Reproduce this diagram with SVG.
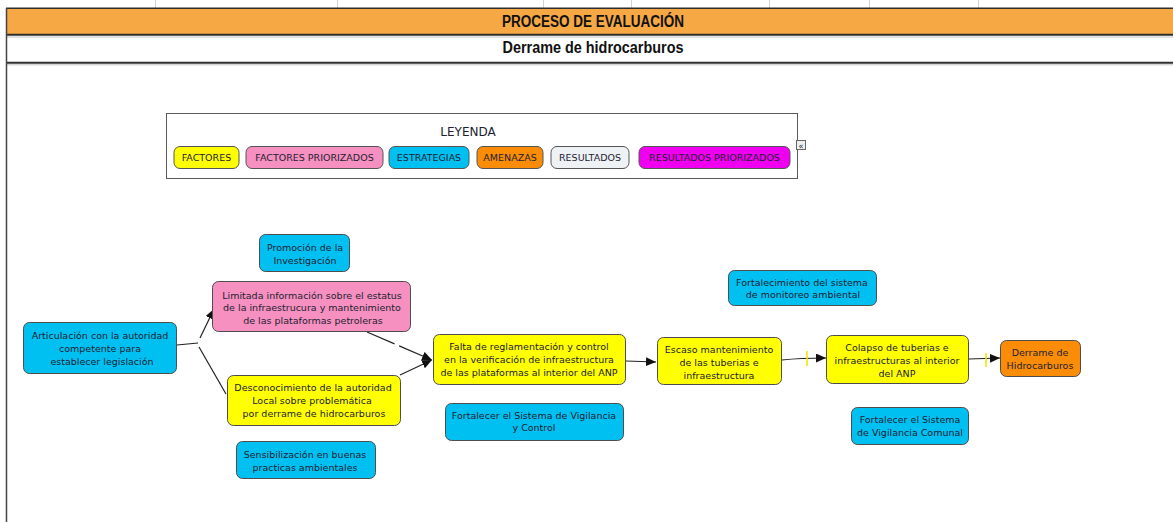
<svg xmlns="http://www.w3.org/2000/svg" width="1173" height="522" viewBox="0 0 1173 522">
  <style>
    .node rect { stroke: #4d4d4d; stroke-width: 1; }
    .node text, .leg text { font-family: "DejaVu Sans", Verdana, sans-serif; font-size: 9.5px; fill: #1c2230; text-anchor: middle; }
    .factor { fill: #ffff00; }
    .prior { fill: #f690c0; }
    .estr { fill: #00c0f2; }
    .amen { fill: #fa8c08; }
    .res { fill: #eef2f5; }
    .resp { fill: #f000f0; }
    .head { font-family: "Liberation Sans", Arial, sans-serif; font-weight: bold; font-size: 16px; fill: #111; text-anchor: middle; }
    .link { fill: none; stroke: #222; stroke-width: 1.2; }
    .dash { stroke-dasharray: 30 5; }
    .tick { stroke: #f2e600; stroke-width: 1.6; }
    .grid { stroke: #d2d2d2; stroke-width: 1; }
  </style>
  <defs>
    <marker id="arrow" markerUnits="userSpaceOnUse" markerWidth="11" markerHeight="10" refX="10" refY="4.5" orient="auto">
      <path d="M0,0 L10,4.5 L0,9 z" fill="#111"/>
    </marker>
  </defs>

  <rect width="1173" height="522" fill="#ffffff"/>

  <!-- sheet header -->
  <g id="header">
    <line class="grid" x1="155.5" y1="0" x2="155.5" y2="8"/>
    <line class="grid" x1="337.5" y1="0" x2="337.5" y2="8"/>
    <line class="grid" x1="543.5" y1="0" x2="543.5" y2="8"/>
    <line class="grid" x1="631.5" y1="0" x2="631.5" y2="8"/>
    <line class="grid" x1="769.5" y1="0" x2="769.5" y2="8"/>
    <line class="grid" x1="869.5" y1="0" x2="869.5" y2="8"/>
    <line class="grid" x1="978.5" y1="0" x2="978.5" y2="8"/>
    <rect x="6" y="8" width="1167" height="26" fill="#f5a843"/>
    <line x1="6" y1="8.2" x2="1173" y2="8.2" stroke="#2e2e2e" stroke-width="1.6"/>
    <line x1="6" y1="34.8" x2="1173" y2="34.8" stroke="#2e2e2e" stroke-width="2"/>
    <line x1="6" y1="37" x2="1173" y2="37" stroke="#c4c4c4" stroke-width="1"/>
    <line x1="6" y1="62.8" x2="1173" y2="62.8" stroke="#2e2e2e" stroke-width="2"/>
    <line x1="6" y1="64.8" x2="1173" y2="64.8" stroke="#c4c4c4" stroke-width="1"/>
    <line x1="6.5" y1="8" x2="6.5" y2="522" stroke="#444" stroke-width="1.5"/>
    <text class="head" x="593" y="26.5" textLength="182" lengthAdjust="spacingAndGlyphs">PROCESO DE EVALUACIÓN</text>
    <text class="head" x="593" y="52.5" textLength="181" lengthAdjust="spacingAndGlyphs">Derrame de hidrocarburos</text>
  </g>

  <!-- legend -->
  <g id="legend" class="leg">
    <rect x="166.5" y="113.5" width="631" height="65" fill="#ffffff" stroke="#5a5a5a" stroke-width="1"/>
    <text x="468" y="136" style="font-size:12px">LEYENDA</text>
    <g stroke="#555" stroke-width="1">
      <rect class="factor" x="174" y="146.5" width="65" height="22" rx="6"/>
      <rect class="prior" x="246" y="146.5" width="137" height="22" rx="6"/>
      <rect class="estr" x="389" y="146.5" width="80" height="22" rx="6"/>
      <rect class="amen" x="477" y="146.5" width="66" height="22" rx="6"/>
      <rect class="res" x="551" y="146.5" width="78" height="22" rx="6"/>
      <rect class="resp" x="639" y="146.5" width="151" height="22" rx="6"/>
    </g>
    <text x="206.5" y="161">FACTORES</text>
    <text x="314.5" y="161">FACTORES PRIORIZADOS</text>
    <text x="429" y="161">ESTRATEGIAS</text>
    <text x="510" y="161">AMENAZAS</text>
    <text x="590" y="161">RESULTADOS</text>
    <text x="714.5" y="161">RESULTADOS PRIORIZADOS</text>
    <rect x="796.5" y="140.5" width="9" height="9" fill="#eeeeee" stroke="#666" stroke-width="1"/>
    <text x="801" y="148.5" style="font-size:8px">«</text>
  </g>

  <!-- connectors -->
  <g id="connectors">
    <path class="link" d="M177,345 L198,343"/>
    <path class="link" d="M200,338 L214,309" marker-end="url(#arrow)"/>
    <path class="link" d="M199,347 L226,394"/>
    <path class="link dash" d="M367,332 L432,360" marker-end="url(#arrow)"/>
    <path class="link dash" d="M400,375 L432,360" marker-end="url(#arrow)"/>
    <path class="link" d="M626,361 L656,362" marker-end="url(#arrow)"/>
    <path class="link" d="M782,360 Q800,358 826,358" marker-end="url(#arrow)"/>
    <line class="tick" x1="807" y1="351" x2="807" y2="366"/>
    <path class="link" d="M969,359 L1000,358" marker-end="url(#arrow)"/>
    <line class="tick" x1="986" y1="353" x2="986" y2="367"/>
  </g>

  <!-- nodes -->
  <g id="n-promocion" class="node">
    <rect class="estr" x="259.5" y="234.5" width="90" height="37" rx="6"/>
    <text x="305" y="250.5">Promoción de la</text>
    <text x="305" y="263.5">Investigación</text>
  </g>

  <g id="n-limitada" class="node">
    <rect class="prior" x="212.5" y="281.5" width="198" height="50" rx="6" stroke="#e8a0c4"/>
    <text x="312" y="298.5">Limitada información sobre el estatus</text>
    <text x="312" y="311">de la infraestrucura y mantenimiento</text>
    <text x="313" y="323.5">de las plataformas petroleras</text>
  </g>

  <g id="n-articulacion" class="node">
    <rect class="estr" x="23.5" y="322.5" width="153" height="51" rx="6"/>
    <text x="100" y="338.5">Articulación con la autoridad</text>
    <text x="100" y="351.5">competente para</text>
    <text x="102" y="364.5">establecer legislación</text>
  </g>

  <g id="n-desconocimiento" class="node">
    <rect class="factor" x="227.5" y="375.5" width="173" height="50" rx="6"/>
    <text x="313" y="390.5">Desconocimiento de la autoridad</text>
    <text x="312" y="404">Local sobre problemática</text>
    <text x="314" y="417">por derrame de hidrocarburos</text>
  </g>

  <g id="n-sensibilizacion" class="node">
    <rect class="estr" x="236.5" y="441.5" width="139" height="37" rx="6"/>
    <text x="305" y="457.5">Sensibilización en buenas</text>
    <text x="305" y="470.5">practicas ambientales</text>
  </g>

  <g id="n-falta" class="node">
    <rect class="factor" x="433.5" y="334.5" width="192" height="50" rx="6"/>
    <text x="529" y="349.5">Falta de reglamentación y control</text>
    <text x="529" y="362.5">en la verificación de infraestructura</text>
    <text x="529" y="376">de las plataformas al interior del ANP</text>
  </g>

  <g id="n-vigilancia-control" class="node">
    <rect class="estr" x="445.5" y="403.5" width="178" height="37" rx="6"/>
    <text x="534" y="418.5">Fortalecer el Sistema de Vigilancia</text>
    <text x="534" y="431">y Control</text>
  </g>

  <g id="n-escaso" class="node">
    <rect class="factor" x="657.5" y="337.5" width="124" height="47" rx="6"/>
    <text x="719" y="352.5">Escaso mantenimiento</text>
    <text x="719" y="365.5">de las tuberias e</text>
    <text x="719" y="378.5">infraestructura</text>
  </g>

  <g id="n-monitoreo" class="node">
    <rect class="estr" x="728.5" y="270.5" width="148" height="35" rx="6"/>
    <text x="802" y="285.5">Fortalecimiento del sistema</text>
    <text x="803" y="298">de monitoreo ambiental</text>
  </g>

  <g id="n-colapso" class="node">
    <rect class="factor" x="826.5" y="335.5" width="142" height="48" rx="6"/>
    <text x="897" y="350.5">Colapso de tuberias e</text>
    <text x="897" y="363.5">infraestructuras al interior</text>
    <text x="897" y="376.5">del ANP</text>
  </g>

  <g id="n-derrame" class="node">
    <rect class="amen" x="1000.5" y="340.5" width="80" height="36" rx="6"/>
    <text x="1040" y="355.5">Derrame de</text>
    <text x="1040" y="368.5">Hidrocarburos</text>
  </g>

  <g id="n-vigilancia-comunal" class="node">
    <rect class="estr" x="851.5" y="407.5" width="117" height="37" rx="6"/>
    <text x="910" y="422.5">Fortalecer el Sistema</text>
    <text x="910" y="435.5">de Vigilancia Comunal</text>
  </g>
</svg>
